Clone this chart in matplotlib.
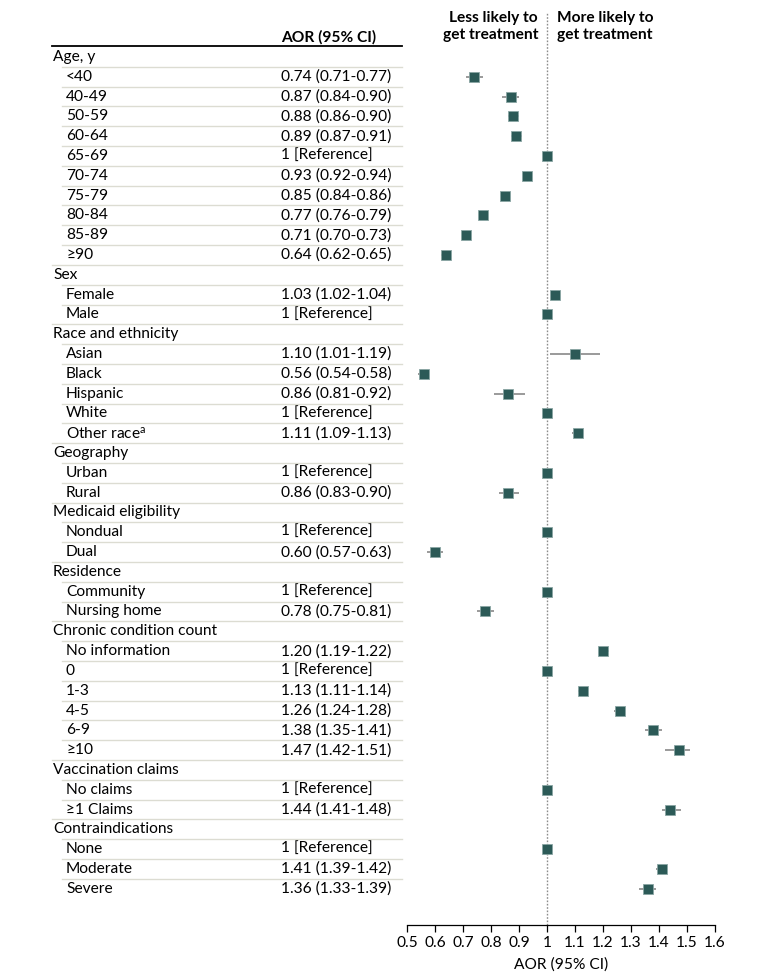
import matplotlib
matplotlib.use("Agg")
import matplotlib.pyplot as plt
from matplotlib.transforms import blended_transform_factory
from matplotlib.lines import Line2D

plt.rcParams['font.family'] = ['Lato', 'DejaVu Sans']
plt.rcParams['mathtext.fontset'] = 'custom'
plt.rcParams['mathtext.rm'] = 'Lato'
plt.rcParams['mathtext.it'] = 'Lato:italic'

# ---- data ----
group_names = ["Age, y", "Sex", "Race and ethnicity", "Geography",
               "Medicaid eligibility", "Residence", "Chronic condition count",
               "Vaccination claims", "Contraindications"]
age_labels = ["<40", "40-49", "50-59", "60-64", "65-69", "70-74", "75-79", "80-84", "85-89", "≥90"]
age_aor = [0.74, 0.87, 0.88, 0.89, 1, 0.93, 0.85, 0.77, 0.71, 0.64]
age_lo = [0.71, 0.84, 0.86, 0.87, None, 0.92, 0.84, 0.76, 0.70, 0.62]
age_hi = [0.77, 0.90, 0.90, 0.91, None, 0.94, 0.86, 0.79, 0.73, 0.65]

sex_labels = ["Female", "Male"]
sex_aor = [1.03, 1]
sex_lo = [1.02, None]
sex_hi = [1.04, None]

race_labels = ["Asian", "Black", "Hispanic", "White", "Other race$^{\\mathrm{a}}$"]
race_aor = [1.10, 0.56, 0.86, 1, 1.11]
race_lo = [1.01, 0.54, 0.81, None, 1.09]
race_hi = [1.19, 0.58, 0.92, None, 1.13]

geo_labels = ["Urban", "Rural"]
geo_aor = [1, 0.86]
geo_lo = [None, 0.83]
geo_hi = [None, 0.90]

medicaid_labels = ["Nondual", "Dual"]
medicaid_aor = [1, 0.60]
medicaid_lo = [None, 0.57]
medicaid_hi = [None, 0.63]

res_labels = ["Community", "Nursing home"]
res_aor = [1, 0.78]
res_lo = [None, 0.75]
res_hi = [None, 0.81]

chronic_labels = ["No information", "0", "1-3", "4-5", "6-9", "≥10"]
chronic_aor = [1.20, 1, 1.13, 1.26, 1.38, 1.47]
chronic_lo = [1.19, None, 1.11, 1.24, 1.35, 1.42]
chronic_hi = [1.22, None, 1.14, 1.28, 1.41, 1.51]

vacc_labels = ["No claims", "≥1 Claims"]
vacc_aor = [1, 1.44]
vacc_lo = [None, 1.41]
vacc_hi = [None, 1.48]

contra_labels = ["None", "Moderate", "Severe"]
contra_aor = [1, 1.41, 1.36]
contra_lo = [None, 1.39, 1.33]
contra_hi = [None, 1.42, 1.39]

x_ticks = [0.5, 0.6, 0.7, 0.8, 0.9, 1, 1.1, 1.2, 1.3, 1.4, 1.5, 1.6]
x_ticklabels = ["0.5", "0.6", "0.7", "0.8", "0.9", "1", "1.1", "1.2", "1.3", "1.4", "1.5", "1.6"]

groups = [
    (age_labels, age_aor, age_lo, age_hi),
    (sex_labels, sex_aor, sex_lo, sex_hi),
    (race_labels, race_aor, race_lo, race_hi),
    (geo_labels, geo_aor, geo_lo, geo_hi),
    (medicaid_labels, medicaid_aor, medicaid_lo, medicaid_hi),
    (res_labels, res_aor, res_lo, res_hi),
    (chronic_labels, chronic_aor, chronic_lo, chronic_hi),
    (vacc_labels, vacc_aor, vacc_lo, vacc_hi),
    (contra_labels, contra_aor, contra_lo, contra_hi),
]

# ---- figure ----
W, H = 780, 980
fig = plt.figure(figsize=(W / 100, H / 100), dpi=100)
ax = fig.add_axes([407 / W, 1 - 925 / H, (715 - 407) / W, (925 - 12) / H])
ax.set_xlim(0.5, 1.6)
ax.set_ylim(43.83, -2.27)

tr = blended_transform_factory(fig.transFigure, ax.transData)
FS = 11.2
MARK = '#2c5a57'
SEP = '#dcdcd2'

# header
ax.text(281 / W, -1.0, "AOR (95% CI)", transform=tr, fontsize=FS, fontweight='bold',
        ha='left', va='center', clip_on=False)
fig.add_artist(Line2D([52 / W, 402 / W], [-0.55, -0.55], transform=tr, color='black', lw=1.3))

row = 0
for gname, (labels, aor, lo, hi) in zip(group_names, groups):
    if row > 0:
        fig.add_artist(Line2D([52 / W, 402 / W], [row - 0.5, row - 0.5], transform=tr,
                              color=SEP, lw=1.0))
    ax.text(53 / W, row, gname, transform=tr, fontsize=FS, ha='left', va='center', clip_on=False)
    row += 1
    for lab, a, l, h in zip(labels, aor, lo, hi):
        fig.add_artist(Line2D([62 / W, 402 / W], [row - 0.5, row - 0.5], transform=tr,
                              color=SEP, lw=1.0))
        ax.text(66 / W, row, lab, transform=tr, fontsize=FS, ha='left', va='center', clip_on=False)
        if l is None:
            txt = "1 [Reference]"
        else:
            txt = f"{a:.2f} ({l:.2f}-{h:.2f})"
            ax.plot([l, h], [row, row], color='#9a9a9a', lw=1.4, zorder=2, solid_capstyle='butt')
        ax.text(281 / W, row, txt, transform=tr, fontsize=FS, ha='left', va='center', clip_on=False)
        ax.plot([a], [row], marker='s', ms=6.8, color=MARK, mec='#8aa5a3', mew=0.6, zorder=3)
        row += 1

ax.axvline(1, color='#8c8c8c', lw=1.0, ls=(0, (1.2, 1.2)), zorder=1)

ax.text(0.968, -1.55, "Less likely to\nget treatment", fontsize=FS, fontweight='bold',
        ha='right', va='center', linespacing=1.3)
ax.text(1.036, -1.55, "More likely to\nget treatment", fontsize=FS, fontweight='bold',
        ha='left', va='center', linespacing=1.3)

for s in ['top', 'right', 'left']:
    ax.spines[s].set_visible(False)
ax.spines['bottom'].set_linewidth(0.9)
ax.set_yticks([])
ax.set_xticks(x_ticks)
ax.set_xticklabels(x_ticklabels, fontsize=FS)
ax.tick_params(axis='x', direction='out', length=5, width=0.9, pad=3)
ax.set_xlabel("AOR (95% CI)", fontsize=FS, labelpad=5)

fig.savefig("out.png", dpi=100)
